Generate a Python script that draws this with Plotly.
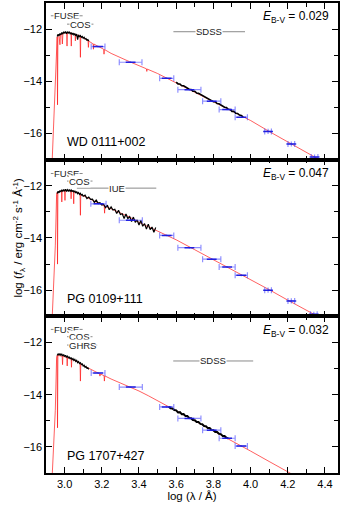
import plotly.graph_objects as go
from plotly.subplots import make_subplots

# ── Panel 1: WD 0111+002 ─────────────────────────────────────────────────────
p1_model_x = [2.930, 2.950, 2.957, 2.960, 2.962, 2.964, 2.970, 2.975, 2.978, 2.985, 2.988, 2.991,
              3.000, 3.011, 3.013, 3.015, 3.025, 3.034, 3.036, 3.038, 3.050, 3.056, 3.058, 3.060,
              3.075, 3.083, 3.085, 3.087, 3.100, 3.120, 3.126, 3.128, 3.130, 3.150, 3.153, 3.155,
              3.157, 3.180, 3.200, 3.210, 3.212, 3.214, 3.250, 3.300, 3.350, 3.400, 3.440, 3.442,
              3.444, 3.500, 3.550, 3.600, 3.700, 3.800, 3.900, 4.000, 4.100, 4.200, 4.300, 4.400]
p1_model_y = [-17.6, -14.2, -12.4, -12.3, -14.9, -12.28, -12.24, -12.6, -12.22, -12.2, -12.57, -12.18,
              -12.15, -12.14, -12.65, -12.14, -12.13, -12.15, -12.65, -12.16, -12.18, -12.2, -12.45, -12.21,
              -12.25, -12.27, -13.08, -12.28, -12.33, -12.42, -12.45, -12.70, -12.46, -12.55, -12.56, -12.77,
              -12.57, -12.66, -12.73, -12.77, -12.96, -12.78, -12.93, -13.10, -13.25, -13.40, -13.52, -13.62,
              -13.53, -13.70, -13.88, -14.05, -14.40, -14.76, -15.13, -15.50, -15.92, -16.33, -16.73, -17.12]

p1_uv_x = [2.960, 2.965, 2.970, 2.975, 2.980, 2.985, 2.990, 2.995, 3.000, 3.005, 3.010, 3.015,
           3.020, 3.025, 3.030, 3.035, 3.040, 3.045, 3.050, 3.055, 3.060, 3.065, 3.070, 3.075,
           3.080, 3.085, 3.090, 3.095, 3.100, 3.105, 3.110, 3.115, 3.120, 3.125, 3.130]
p1_uv_y = [-12.28, -12.20, -12.26, -12.17, -12.22, -12.13, -12.19, -12.10, -12.16, -12.09, -12.18, -12.11,
           -12.15, -12.10, -12.19, -12.13, -12.21, -12.15, -12.22, -12.17, -12.26, -12.19, -12.40, -12.22,
           -12.30, -12.25, -12.31, -12.28, -12.35, -12.31, -12.38, -12.36, -12.42, -12.40, -12.46]

p1_opt_x = [3.60, 3.61, 3.62, 3.63, 3.64, 3.65, 3.66, 3.67, 3.68, 3.69, 3.70, 3.71, 3.72,
            3.73, 3.74, 3.75, 3.76, 3.77, 3.78, 3.79, 3.80, 3.81, 3.82, 3.83, 3.84, 3.85,
            3.86, 3.87, 3.88, 3.89, 3.90, 3.91, 3.92, 3.93, 3.94, 3.95, 3.96]
p1_opt_y = [-14.03, -14.10, -14.10, -14.17, -14.17, -14.22, -14.24, -14.30, -14.31, -14.38, -14.38, -14.45, -14.46,
            -14.50, -14.53, -14.56, -14.62, -14.64, -14.70, -14.71, -14.78, -14.78, -14.85, -14.86, -14.91, -14.93,
            -14.99, -15.00, -15.07, -15.08, -15.15, -15.15, -15.22, -15.23, -15.29, -15.31, -15.36]

p1_phot_x = [3.180, 3.355, 3.549, 3.671, 3.791, 3.874, 3.950, 4.094, 4.219, 4.344]
p1_phot_y = [-12.67, -13.27, -13.885, -14.32, -14.76, -15.08, -15.375, -15.92, -16.40, -16.90]
p1_phot_xerr = [0.037, 0.061, 0.038, 0.062, 0.049, 0.043, 0.033, 0.018, 0.018, 0.018]
p1_phot_yerr = [0.03, 0.03, 0.03, 0.03, 0.03, 0.03, 0.03, 0.10, 0.10, 0.10]

# ── Panel 2: PG 0109+111 ─────────────────────────────────────────────────────
p2_model_x = [2.930, 2.950, 2.957, 2.960, 2.962, 2.964, 2.975, 2.983, 2.985, 2.987, 3.000, 3.002,
              3.004, 3.020, 3.033, 3.035, 3.037, 3.047, 3.049, 3.051, 3.070, 3.083, 3.085, 3.087,
              3.100, 3.150, 3.200, 3.213, 3.215, 3.217, 3.250, 3.300, 3.350, 3.400, 3.450, 3.500,
              3.550, 3.600, 3.700, 3.800, 3.900, 4.000, 4.100, 4.200, 4.300, 4.400]
p2_model_y = [-17.6, -14.3, -12.35, -12.25, -15.0, -12.24, -12.22, -12.2, -12.62, -12.2, -12.19, -12.56,
              -12.19, -12.18, -12.19, -12.5, -12.2, -12.21, -12.69, -12.22, -12.27, -12.31, -13.13, -12.32,
              -12.38, -12.55, -12.72, -12.77, -13.05, -12.78, -12.88, -13.03, -13.20, -13.40, -13.57, -13.74,
              -13.90, -14.07, -14.45, -14.83, -15.20, -15.58, -15.98, -16.38, -16.76, -17.15]

p2_uv_x = [2.960, 2.965, 2.970, 2.975, 2.980, 2.985, 2.990, 2.995, 3.000, 3.005, 3.010, 3.015,
           3.020, 3.025, 3.030, 3.035, 3.040, 3.045, 3.050, 3.055, 3.060, 3.065, 3.070, 3.075,
           3.080, 3.085, 3.090, 3.095, 3.100, 3.11, 3.12, 3.13, 3.14, 3.15, 3.16, 3.17, 3.18,
           3.19, 3.20, 3.21, 3.22, 3.23, 3.24, 3.25, 3.26, 3.27, 3.28, 3.29, 3.30, 3.31, 3.32,
           3.33, 3.34, 3.35, 3.36, 3.37, 3.38, 3.39, 3.40, 3.41, 3.42, 3.43, 3.44, 3.45, 3.46,
           3.47, 3.48, 3.49]
p2_uv_y = [-12.30, -12.21, -12.27, -12.18, -12.24, -12.15, -12.22, -12.14, -12.21, -12.13, -12.20, -12.15,
           -12.22, -12.14, -12.21, -12.16, -12.23, -12.17, -12.25, -12.19, -12.28, -12.22, -12.30, -12.26,
           -12.33, -12.29, -12.36, -12.33, -12.40, -12.36, -12.49, -12.43, -12.52, -12.51, -12.64, -12.55, -12.66,
           -12.65, -12.74, -12.71, -12.84, -12.74, -12.92, -12.81, -12.93, -12.90, -13.06, -12.94, -13.10, -13.07, -13.25,
           -13.08, -13.26, -13.18, -13.37, -13.20, -13.40, -13.31, -13.50, -13.33, -13.55, -13.45, -13.66, -13.47, -13.68,
           -13.58, -13.78, -13.60]

p2_phot_x = [3.182, 3.356, 3.549, 3.671, 3.791, 3.874, 3.950, 4.094, 4.219, 4.340]
p2_phot_y = [-12.69, -13.32, -13.90, -14.37, -14.81, -15.11, -15.43, -16.00, -16.41, -16.92]
p2_phot_xerr = [0.041, 0.062, 0.038, 0.062, 0.049, 0.043, 0.033, 0.018, 0.018, 0.018]
p2_phot_yerr = [0.03, 0.03, 0.03, 0.03, 0.03, 0.03, 0.03, 0.10, 0.10, 0.10]

# ── Panel 3: PG 1707+427 ─────────────────────────────────────────────────────
p3_model_x = [2.930, 2.950, 2.957, 2.960, 2.962, 2.964, 2.975, 2.987, 2.989, 2.991, 3.000, 3.012,
              3.014, 3.016, 3.035, 3.037, 3.039, 3.050, 3.083, 3.085, 3.087, 3.100, 3.150, 3.188,
              3.190, 3.192, 3.212, 3.214, 3.216, 3.250, 3.300, 3.350, 3.400, 3.450, 3.500, 3.550,
              3.600, 3.700, 3.800, 3.900, 4.000, 4.100, 4.200, 4.300]
p3_model_y = [-17.6, -14.6, -12.6, -12.5, -15.27, -12.5, -12.51, -12.53, -12.85, -12.53, -12.55, -12.58,
              -12.9, -12.58, -12.63, -12.95, -12.64, -12.68, -12.8, -13.48, -12.81, -12.88, -13.08, -13.2,
              -13.29, -13.21, -13.27, -13.48, -13.28, -13.40, -13.55, -13.70, -13.86, -14.04, -14.23, -14.44,
              -14.62, -15.00, -15.38, -15.76, -16.16, -16.56, -16.95, -17.35]

p3_uv_x = [2.960, 2.965, 2.970, 2.975, 2.980, 2.985, 2.990, 2.995, 3.000, 3.005, 3.010, 3.015,
           3.020, 3.025, 3.030, 3.035, 3.040, 3.045, 3.050, 3.055, 3.060, 3.065, 3.070, 3.075,
           3.080, 3.085, 3.090, 3.095, 3.100, 3.105, 3.110, 3.115, 3.120, 3.125, 3.130]
p3_uv_y = [-12.50, -12.43, -12.49, -12.42, -12.50, -12.45, -12.52, -12.46, -12.54, -12.49, -12.57, -12.51,
           -12.60, -12.55, -12.63, -12.58, -12.66, -12.62, -12.69, -12.65, -12.73, -12.69, -12.77, -12.73,
           -12.81, -12.78, -12.85, -12.82, -12.90, -12.87, -12.95, -12.92, -12.99, -12.97, -13.03]

p3_opt_x = [3.56, 3.57, 3.58, 3.59, 3.60, 3.61, 3.62, 3.63, 3.64, 3.65, 3.66, 3.67, 3.68,
            3.69, 3.70, 3.71, 3.72, 3.73, 3.74, 3.75, 3.76, 3.77, 3.78, 3.79, 3.80, 3.81,
            3.82, 3.83, 3.84, 3.85, 3.86, 3.87, 3.88]
p3_opt_y = [-14.46, -14.52, -14.53, -14.59, -14.60, -14.68, -14.67, -14.75, -14.74, -14.82, -14.82, -14.89, -14.90,
            -14.97, -14.98, -15.05, -15.05, -15.12, -15.13, -15.20, -15.21, -15.28, -15.28, -15.35, -15.36, -15.43,
            -15.43, -15.50, -15.51, -15.58, -15.58, -15.65, -15.67]

p3_phot_x = [3.180, 3.356, 3.549, 3.671, 3.791, 3.874, 3.950]
p3_phot_y = [-13.17, -13.71, -14.47, -14.91, -15.36, -15.67, -15.97]
p3_phot_xerr = [0.037, 0.062, 0.038, 0.062, 0.049, 0.043, 0.033]
p3_phot_yerr = [0.03, 0.03, 0.03, 0.03, 0.03, 0.03, 0.03]

star_names = ['WD 0111+002', 'PG 0109+111', 'PG 1707+427']
ebv_values = ['0.029', '0.047', '0.032']

# instrument coverage labels: (name, x0, x1, y)
p1_instr = [('FUSE', 2.926, 3.097, -11.49), ('COS', 3.013, 3.155, -11.81), ('SDSS', 3.585, 3.97, -12.10)]
p2_instr = [('FUSE', 2.926, 3.097, -11.53), ('COS', 3.013, 3.150, -11.82), ('IUE', 3.066, 3.493, -12.09)]
p3_instr = [('FUSE', 2.926, 3.097, -11.50), ('COS', 3.013, 3.150, -11.78),
            ('GHRS', 3.013, 3.175, -12.10), ('SDSS', 3.584, 4.014, -12.71)]

panels = [
    dict(model=(p1_model_x, p1_model_y), spectra=[(p1_uv_x, p1_uv_y, 1.2), (p1_opt_x, p1_opt_y, 1.6)],
         phot=(p1_phot_x, p1_phot_y, p1_phot_xerr, p1_phot_yerr), instr=p1_instr),
    dict(model=(p2_model_x, p2_model_y), spectra=[(p2_uv_x, p2_uv_y, 1.2)],
         phot=(p2_phot_x, p2_phot_y, p2_phot_xerr, p2_phot_yerr), instr=p2_instr),
    dict(model=(p3_model_x, p3_model_y), spectra=[(p3_uv_x, p3_uv_y, 1.2), (p3_opt_x, p3_opt_y, 2)],
         phot=(p3_phot_x, p3_phot_y, p3_phot_xerr, p3_phot_yerr), instr=p3_instr),
]

FONT = 'Liberation Sans, Arial, sans-serif'

fig = make_subplots(rows=3, cols=1, shared_xaxes=True, vertical_spacing=0)

for i, p in enumerate(panels):
    row = i + 1
    yref = 'y' if row == 1 else f'y{row}'

    # instrument coverage bars
    for name, x0, x1, yv in p['instr']:
        fig.add_trace(go.Scatter(x=[x0, x1], y=[yv, yv], mode='lines',
                                 line=dict(color='#8a8a8a', width=1), hoverinfo='skip'),
                      row=row, col=1)
        fig.add_annotation(x=(x0 + x1) / 2, y=yv, xref='x', yref=yref, text=name,
                           showarrow=False, bgcolor='white', borderpad=0,
                           font=dict(size=9.5, color='#222', family=FONT))

    mx, my = p['model']
    fig.add_trace(go.Scatter(x=mx, y=my, mode='lines',
                             line=dict(color='rgba(255,20,20,0.85)', width=0.8)), row=row, col=1)
    for sx, sy, w in p['spectra']:
        fig.add_trace(go.Scatter(x=sx, y=sy, mode='lines',
                                 line=dict(color='black', width=w)), row=row, col=1)
    px, py, pxe, pye = p['phot']
    fig.add_trace(go.Scatter(
        x=px, y=py, mode='markers',
        marker=dict(symbol='line-ew', size=7, color='rgba(20,20,220,0.9)',
                    line=dict(color='rgba(20,20,220,0.9)', width=1.5)),
        error_x=dict(type='data', array=pxe, color='rgba(70,70,255,0.6)', thickness=1.2, width=3),
        error_y=dict(type='data', array=pye, color='rgba(70,70,255,0.6)', thickness=1.2, width=0),
    ), row=row, col=1)

    fig.add_annotation(x=3.0, y=-16.33, xref='x', yref=yref, text=star_names[i],
                       xanchor='left', showarrow=False, font=dict(size=12.5, color='black', family=FONT))
    fig.add_annotation(x=4.435, y=-11.55, xref='x', yref=yref,
                       text=f'<i>E</i><sub>B-V</sub> = {ebv_values[i]}',
                       xanchor='right', showarrow=False, font=dict(size=12, color='black', family=FONT))

fig.update_xaxes(range=[2.9, 4.47], tick0=3.0, dtick=0.2, ticks='inside', ticklen=6,
                 minor=dict(dtick=0.1, ticks='inside', ticklen=4, tickcolor='black'),
                 showline=True, linewidth=1.5, linecolor='black', mirror='ticks',
                 tickcolor='black', showgrid=False, zeroline=False, tickformat='.1f',
                 tickfont=dict(size=11, color='black', family=FONT))
fig.update_yaxes(range=[-17, -11], tick0=-12, dtick=2, ticks='inside', ticklen=6,
                 minor=dict(dtick=1, ticks='inside', ticklen=4, tickcolor='black'),
                 showline=True, linewidth=1.5, linecolor='black', mirror='ticks',
                 tickcolor='black', showgrid=False, zeroline=False,
                 tickfont=dict(size=11, color='black', family=FONT))
fig.update_xaxes(title_text='log (λ / Å)', title_standoff=2,
                 title_font=dict(size=11.5, color='black', family=FONT), row=3, col=1)

fig.add_annotation(x=-0.128, y=0.5, xref='paper', yref='paper', textangle=-90,
                   text='log (<i>f</i><sub>λ</sub> / erg cm<sup>-2</sup> s<sup>-1</sup> Å<sup>-1</sup>)',
                   showarrow=False, font=dict(size=11.5, color='black', family=FONT))

fig.update_layout(width=342, height=505, showlegend=False,
                  margin=dict(l=46, r=4, t=1, b=32),
                  plot_bgcolor='white', paper_bgcolor='white')

fig.write_html("out.html", config={'displayModeBar': False},
               post_script="document.body.style.margin='0';document.body.style.overflow='hidden';")
